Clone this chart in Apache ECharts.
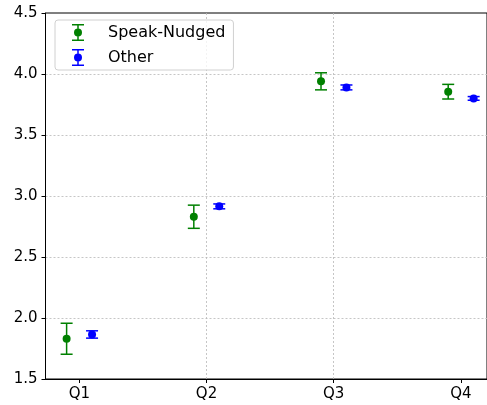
<!DOCTYPE html>
<html>
<head>
<meta charset="utf-8">
<script src="https://cdn.jsdelivr.net/npm/echarts@6/dist/echarts.min.js"></script>
<style>
  html, body { margin: 0; padding: 0; background: #fff; }
  #chart { width: 487px; height: 405px; }
</style>
</head>
<body>
<div id="chart"></div>
<script>
const quarters = ['Q1', 'Q2', 'Q3', 'Q4']
const offset = 0.1
const speakMean = [1.83, 2.83, 3.94, 3.855]
const speakErr = [0.127, 0.095, 0.07, 0.06]
const otherMean = [1.865, 2.915, 3.89, 3.80]
const otherErr = [0.03, 0.02, 0.02, 0.015]

// legend handle: errorbar with caps and a dot
const errIcon = 'path://M0,0H12V1.5H6.75V15.5H12V17H0V15.5H5.25V1.5H0Z M6,4.5A4,4,0,1,1,6,12.5A4,4,0,1,1,6,4.5Z'

function points(means, shift) {
  return means.map((m, i) => [i + shift, m])
}
function bars(means, errs, shift) {
  return means.map((m, i) => [i + shift, m - errs[i], m + errs[i]])
}

function renderBar(color) {
  return function(params, api) {
    let x = api.value(0)
    let lo = api.coord([x, api.value(1)])
    let hi = api.coord([x, api.value(2)])
    let half = 6
    let style = { stroke: color, lineWidth: 1.5 }
    return {
      type: 'group',
      children: [
        { type: 'line', shape: { x1: lo[0], y1: lo[1], x2: hi[0], y2: hi[1] }, style: style },
        { type: 'line', shape: { x1: lo[0] - half, y1: lo[1], x2: lo[0] + half, y2: lo[1] }, style: style },
        { type: 'line', shape: { x1: hi[0] - half, y1: hi[1], x2: hi[0] + half, y2: hi[1] }, style: style }
      ]
    }
  }
}

const gridLine = { show: true, showMinLine: false, showMaxLine: false, lineStyle: { color: '#b8b8b8', type: [2, 2], width: 0.8 } }
const tickIdx = quarters.map((q, i) => i)

let chart = echarts.init(document.getElementById('chart'))
chart.setOption({
  animation: false,
  textStyle: { fontFamily: 'DejaVu Sans' },
  grid: { left: 45.5, right: 0, top: 13, bottom: 26, show: true, borderColor: '#000', borderWidth: 1 },
  legend: {
    orient: 'vertical',
    left: 55,
    top: 20,
    padding: [4, 8, 4, 17],
    itemGap: 8,
    itemWidth: 12,
    itemHeight: 17,
    backgroundColor: 'rgba(255,255,255,0.8)',
    borderColor: '#d0d0d0',
    borderWidth: 1,
    borderRadius: 3,
    textStyle: { fontSize: 16, color: '#000', padding: [0, 0, 0, 19] },
    data: [
      { name: 'Speak-Nudged', icon: errIcon, itemStyle: { color: 'green' } },
      { name: 'Other', icon: errIcon, itemStyle: { color: 'blue' } }
    ]
  },
  xAxis: {
    type: 'value',
    min: -0.266,
    max: 3.205,
    axisLine: { show: true, onZero: false, lineStyle: { color: '#000' } },
    axisTick: { show: true, length: 4, customValues: tickIdx, lineStyle: { color: '#000' } },
    axisLabel: { customValues: tickIdx, fontSize: 15, color: '#000', margin: 8, formatter: v => quarters[v] },
    splitLine: gridLine
  },
  yAxis: {
    type: 'value',
    min: 1.5,
    max: 4.5,
    interval: 0.5,
    axisLine: { show: true, onZero: false, lineStyle: { color: '#000' } },
    axisTick: { show: true, length: 4, lineStyle: { color: '#000' } },
    axisLabel: { fontSize: 15, color: '#000', margin: 8, formatter: v => v.toFixed(1) },
    splitLine: gridLine
  },
  series: [
    {
      name: 'Speak-Nudged', type: 'custom', renderItem: renderBar('green'),
      data: bars(speakMean, speakErr, -offset), itemStyle: { color: 'green' }, z: 2
    },
    {
      name: 'Speak-Nudged', type: 'scatter', symbol: 'circle', symbolSize: 8,
      data: points(speakMean, -offset), itemStyle: { color: 'green', opacity: 1 }, z: 3
    },
    {
      name: 'Other', type: 'custom', renderItem: renderBar('blue'),
      data: bars(otherMean, otherErr, offset), itemStyle: { color: 'blue' }, z: 2
    },
    {
      name: 'Other', type: 'scatter', symbol: 'circle', symbolSize: 8,
      data: points(otherMean, offset), itemStyle: { color: 'blue', opacity: 1 }, z: 3
    }
  ]
})
</script>
</body>
</html>
